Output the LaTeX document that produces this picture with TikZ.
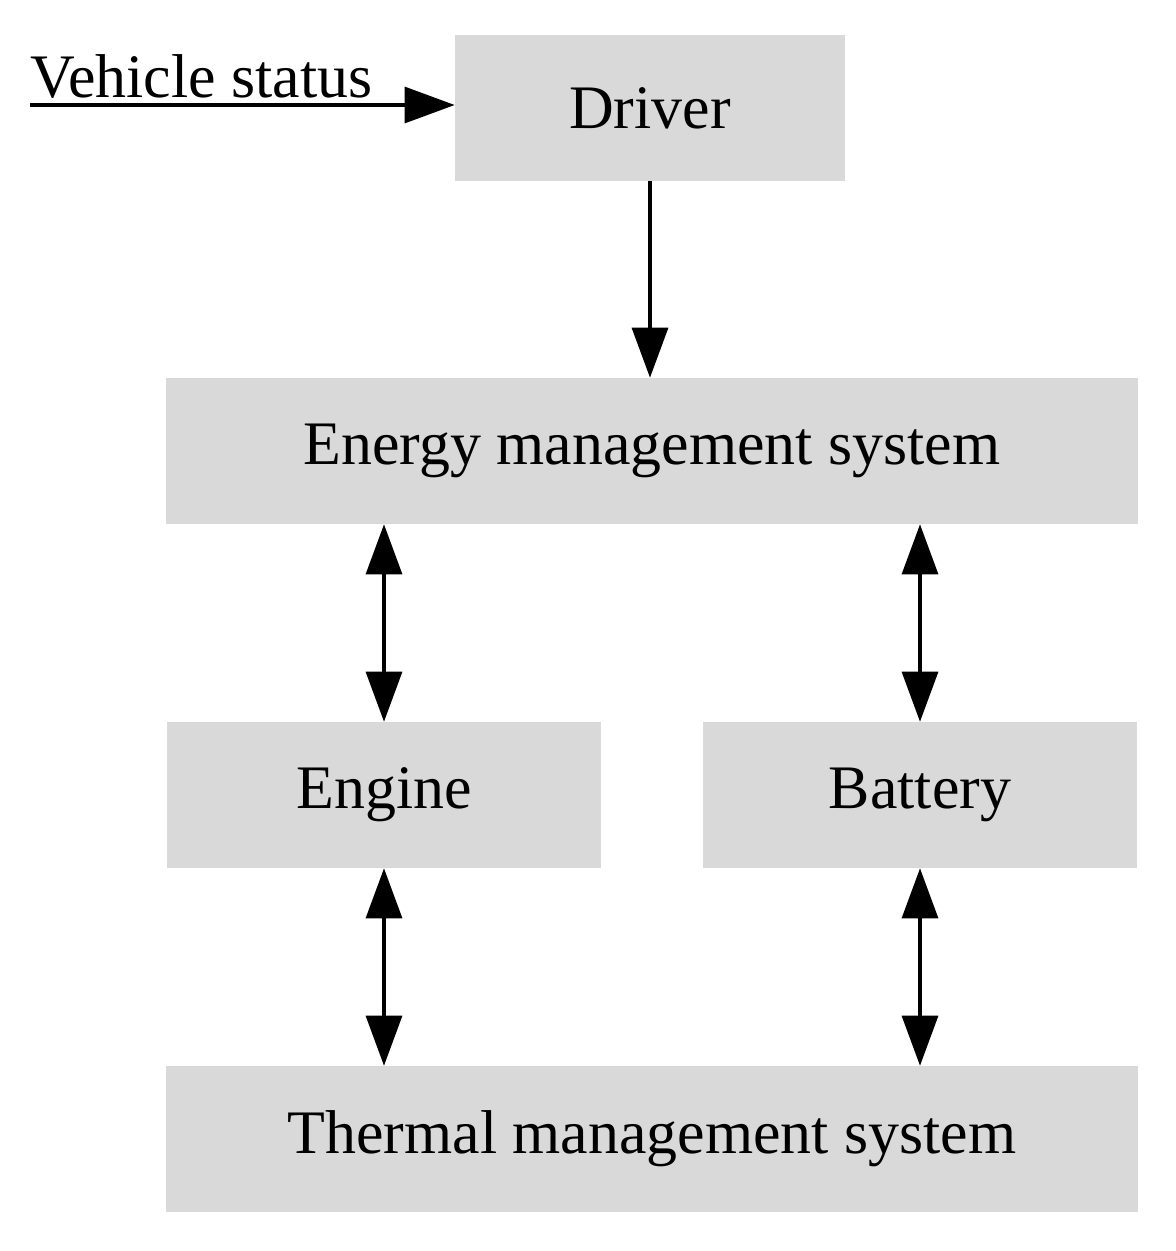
\documentclass[tikz,border=0pt]{standalone}
\usepackage{fontspec}
\setmainfont{Liberation Serif}
\usetikzlibrary{arrows.meta, positioning}
\definecolor{boxgray}{HTML}{D9D9D9}
\begin{document}
\begin{tikzpicture}[x=0.025cm, y=-0.025cm,
    box/.style={fill=boxgray, inner sep=0pt, minimum height=3.65cm, font=\fontsize{44}{50}\selectfont},
    link/.style={line width=2.2pt, -{Triangle[length=1.25cm, width=0.9cm]}},
    both/.style={line width=2.2pt, {Triangle[length=1.25cm, width=0.9cm]}-{Triangle[length=1.25cm, width=0.9cm]}}]
  \useasboundingbox (0,0) rectangle (1176,1251);
  \node[box, minimum width=9.75cm] (driver) at (650,108) {Driver};
  \node[box, minimum width=24.3cm] (ems) at (652,451) {Energy management system};
  \node[box, minimum width=10.85cm] (engine) at (384,795) {Engine};
  \node[box, minimum width=10.85cm] (battery) at (920,795) {Battery};
  \node[box, minimum width=24.3cm] (tms) at (652,1139) {Thermal management system};
  \coordinate (vs) at (30,105);
  \node[anchor=south west, inner sep=0pt, font=\fontsize{44}{50}\selectfont] (vslabel) at (30,99) {Vehicle status};
  \draw[link] (vs) -- (vs -| driver.west);
  \draw[link] (driver.south) -- (driver.south |- ems.north);
  \draw[both] (ems.south -| engine) -- (engine.north);
  \draw[both] (ems.south -| battery) -- (battery.north);
  \draw[both] (engine.south) -- (tms.north -| engine);
  \draw[both] (battery.south) -- (tms.north -| battery);
\end{tikzpicture}
\end{document}
